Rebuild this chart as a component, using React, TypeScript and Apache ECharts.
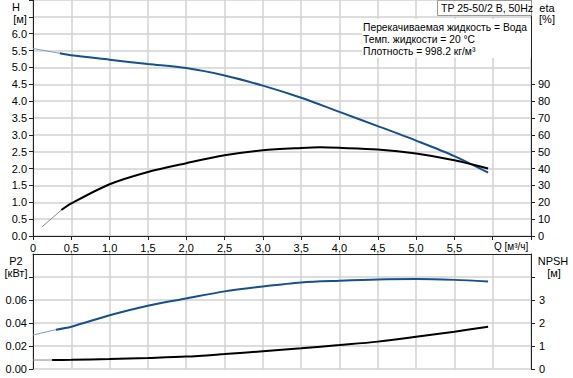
import React, { useEffect, useRef } from 'react';
import * as echarts from 'echarts';

// Flow rate Q [m³/h] and curve values
const Q_HEAD = [0, 0.35, 0.5, 1.0, 1.5, 2.0, 2.5, 3.0, 3.5, 4.0, 4.5, 5.0, 5.5, 5.94];
const HEAD = [5.56, 5.42, 5.36, 5.23, 5.1, 4.98, 4.76, 4.46, 4.1, 3.68, 3.26, 2.83, 2.37, 1.88];

const Q_ETA = [0.12, 0.37, 0.5, 1.0, 1.5, 2.0, 2.5, 3.0, 3.5, 3.75, 4.0, 4.5, 5.0, 5.5, 5.94];
const ETA = [5.5, 15.4, 19.3, 30.7, 38.0, 43.2, 47.9, 50.8, 52.2, 52.6, 52.3, 51.3, 48.9, 44.9, 40.0];

const Q_P2 = [0, 0.3, 0.5, 1.0, 1.5, 2.0, 2.5, 3.0, 3.5, 4.0, 4.5, 5.0, 5.5, 5.94];
const P2 = [0.0296, 0.0342, 0.0368, 0.0467, 0.055, 0.0613, 0.0675, 0.0718, 0.0753, 0.0768, 0.0779, 0.0782, 0.0775, 0.0761];

const Q_NPSH = [0, 0.25, 0.5, 1.0, 1.5, 2.0, 2.5, 3.0, 3.5, 4.0, 4.5, 5.0, 5.5, 5.94];
const NPSH = [0.39, 0.39, 0.4, 0.43, 0.48, 0.54, 0.65, 0.77, 0.9, 1.04, 1.19, 1.4, 1.62, 1.84];

// Tick labels
const ETA_LABELS = [0, 10, 20, 30, 40, 50, 60, 70, 80, 90];
const P2_LABELS = [0, 0.02, 0.04, 0.06];
const P2_TICKS = [0, 0.02, 0.04, 0.06, 0.08];
const NPSH_LABELS = [0, 1, 2, 3];
const NPSH_TICKS = [0, 1, 2, 3, 4];
const H_LABEL_MAX = 6.0;
const Q_LABEL_MAX = 5.5;

const TITLE = 'TP 25-50/2 B, 50Hz';
const NOTES = ['Перекачиваемая жидкость = Вода', 'Темп. жидкости = 20 °C', 'Плотность = 998.2 кг/м³'];

const FONT = '"Liberation Sans", Arial, sans-serif';
const BLUE = '#17508f';
const BLUE_THIN = '#7f9cc2';
const BLACK = '#000000';
const BLACK_THIN = '#8a8a8a';
const GRID_C = '#d2d2d2';
const AXIS_C = '#222222';

const zip = (q: number[], v: number[]) => q.map((x, i) => [x, v[i]]);

function twoPart(name: string, q: number[], v: number[], xi: number, yi: number, thick: string, thin: string) {
  const d = zip(q, v);
  return [
    {
      name: name + '-start', type: 'line', xAxisIndex: xi, yAxisIndex: yi, data: d.slice(0, 2),
      showSymbol: false, symbol: 'none', lineStyle: { color: thin, width: 1 }, z: 3,
    },
    {
      name, type: 'line', xAxisIndex: xi, yAxisIndex: yi, data: d.slice(1),
      showSymbol: false, symbol: 'none', smooth: 0.3, lineStyle: { color: thick, width: 2 }, z: 4,
    },
  ];
}

const txt = (x: number, y: number, text: string, align = 'left', size = 11) => ({
  type: 'text', x, y, z: 20,
  style: { text, fill: '#000', font: `${size}px ${FONT}`, textAlign: align, textVerticalAlign: 'middle' },
});

export default function App() {
  const ref = useRef<HTMLDivElement>(null);
  useEffect(() => {
    if (!ref.current) return;
    const chart = echarts.init(ref.current, undefined, { renderer: 'svg' });
    const labelStyle = { color: '#000', fontSize: 11, fontFamily: FONT };
    const qFmt = (v: number) => (v > Q_LABEL_MAX + 1e-6 ? '' : v === 0 ? '0' : v.toFixed(1).replace('.', ','));
    chart.setOption({
      animation: false,
      backgroundColor: '#ffffff',
      grid: [
        { left: 33, top: -1, width: 498, height: 237 },
        { left: 33, top: 254, width: 498, height: 115 },
      ],
      xAxis: [
        {
          gridIndex: 0, type: 'value', min: 0, max: 6.5, interval: 0.5, position: 'bottom',
          axisLine: { show: true, onZero: false, lineStyle: { color: AXIS_C, width: 1 } },
          axisTick: { show: true, length: 4, lineStyle: { color: AXIS_C } },
          axisLabel: { ...labelStyle, margin: 6, formatter: qFmt, showMaxLabel: true, showMinLabel: true },
          splitLine: { show: true, lineStyle: { color: GRID_C, width: 1.5 } },
        },
        {
          gridIndex: 1, type: 'value', min: 0, max: 6.5, interval: 0.5, position: 'top',
          axisLine: { show: true, onZero: false, lineStyle: { color: AXIS_C, width: 1 } },
          axisTick: { show: false },
          axisLabel: { show: false },
          splitLine: { show: true, lineStyle: { color: GRID_C, width: 1.5 } },
        },
      ],
      yAxis: [
        {
          gridIndex: 0, type: 'value', min: 0, max: 7, interval: 0.5, position: 'left',
          axisLine: { show: true, onZero: false, lineStyle: { color: AXIS_C } },
          axisTick: { show: true, length: 4, lineStyle: { color: AXIS_C } },
          axisLabel: { ...labelStyle, margin: 6, formatter: (v: number) => (v > H_LABEL_MAX + 1e-6 ? '' : v.toFixed(1)) },
          splitLine: { show: true, lineStyle: { color: GRID_C, width: 1.5 } },
        },
        {
          gridIndex: 0, type: 'value', min: 0, max: 140, interval: 10, position: 'right',
          axisLine: { show: true, onZero: false, lineStyle: { color: AXIS_C } },
          axisTick: { show: true, length: 4, lineStyle: { color: AXIS_C }, customValues: ETA_LABELS },
          axisLabel: { ...labelStyle, margin: 7, customValues: ETA_LABELS, formatter: (v: number) => String(v) },
          splitLine: { show: false },
        },
        {
          gridIndex: 1, type: 'value', min: 0, max: 0.1, interval: 0.02, position: 'left',
          axisLine: { show: true, onZero: false, lineStyle: { color: AXIS_C } },
          axisTick: { show: true, length: 4, lineStyle: { color: AXIS_C }, customValues: P2_TICKS },
          axisLabel: { ...labelStyle, margin: 6, customValues: P2_LABELS, formatter: (v: number) => v.toFixed(2) },
          splitLine: { show: true, lineStyle: { color: GRID_C, width: 1.5 } },
        },
        {
          gridIndex: 1, type: 'value', min: 0, max: 5, interval: 1, position: 'right',
          axisLine: { show: true, onZero: false, lineStyle: { color: AXIS_C } },
          axisTick: { show: true, length: 4, lineStyle: { color: AXIS_C }, customValues: NPSH_TICKS },
          axisLabel: { ...labelStyle, margin: 8, customValues: NPSH_LABELS, formatter: (v: number) => String(v) },
          splitLine: { show: false },
        },
      ],
      series: [
        ...twoPart('H', Q_HEAD, HEAD, 0, 0, BLUE, BLUE_THIN),
        ...twoPart('eta', Q_ETA, ETA, 0, 1, BLACK, BLACK_THIN),
        ...twoPart('P2', Q_P2, P2, 1, 2, BLUE, BLUE_THIN),
        ...twoPart('NPSH', Q_NPSH, NPSH, 1, 3, BLACK, BLACK_THIN),
      ],
      graphic: [
        { type: 'rect', z: 15, shape: { x: 362, y: 19, width: 169, height: 39 }, style: { fill: '#ffffff' } },
        { type: 'rect', z: 15, shape: { x: 437.5, y: 0.5, width: 94, height: 15 }, style: { fill: '#ffffff', stroke: '#9a9a9a', lineWidth: 1 } },
        txt(441, 8, TITLE, 'left', 10.5),
        txt(363, 27, NOTES[0], 'left', 10.3),
        txt(363, 39, NOTES[1], 'left', 10.3),
        txt(363, 51, NOTES[2], 'left', 10.3),
        txt(16, 7, 'H', 'center'),
        txt(20, 19, '[м]', 'center'),
        txt(547, 8, 'eta', 'center'),
        txt(547, 19, '[%]', 'center'),
        txt(494, 246, 'Q [м³/ч]', 'left', 10),
        txt(16, 261, 'P2', 'center'),
        txt(16, 273, '[кВт]', 'center'),
        txt(553, 261, 'NPSH', 'center'),
        txt(554, 273, '[м]', 'center'),
      ],
    });
    return () => chart.dispose();
  }, []);
  return <div ref={ref} style={{ position: 'absolute', left: 0, top: 0, width: 573, height: 378 }} />;
}
